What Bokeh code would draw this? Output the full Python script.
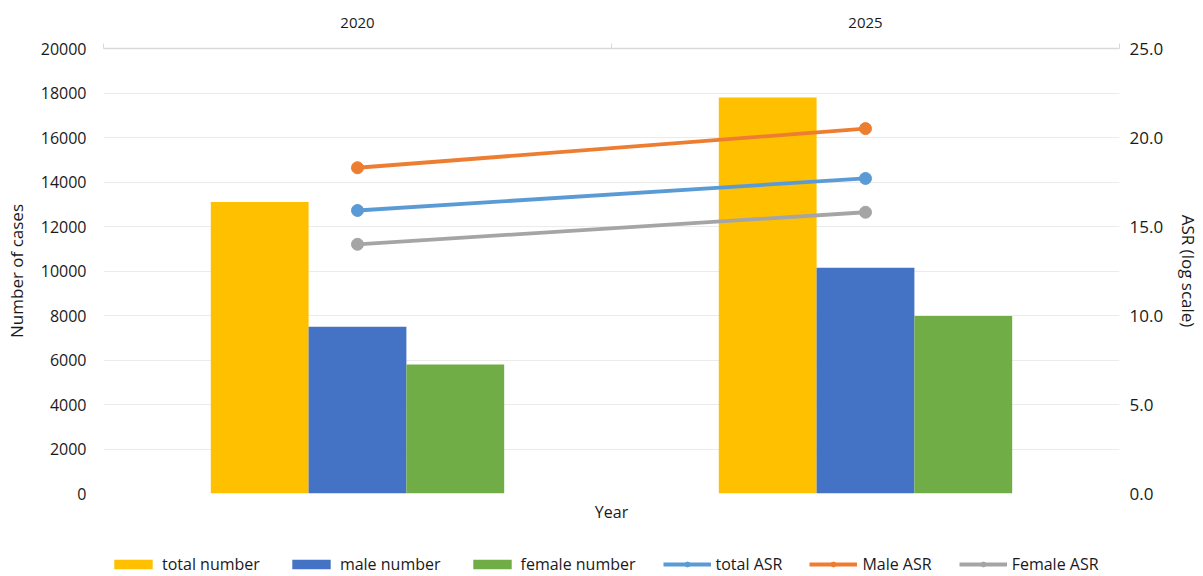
from bokeh.plotting import figure
from bokeh.layouts import column
from bokeh.models import (Range1d, LinearAxis, FixedTicker, NumeralTickFormatter,
                          Legend, LegendItem, ColumnDataSource, Grid)
from bokeh.transform import dodge
from bokeh.embed import file_html
from bokeh.resources import INLINE

# Case counts and age-standardised rates by year
years = ["2020", "2025"]
total_number = [13100, 17800]
male_number = [7500, 10150]
female_number = [5800, 7980]
total_asr = [15.9, 17.7]
male_asr = [18.3, 20.5]
female_asr = [14.0, 15.8]

count_ticks = list(range(0, 20001, 2000))
asr_ticks = [0, 5, 10, 15, 20, 25]

FONT = "Open Sans"
TEXT = "#1a1a1a"
C_TOTAL, C_MALE, C_FEMALE = "#ffc000", "#4472c4", "#70ad47"
L_TOTAL, L_MALE, L_FEMALE = "#5b9bd5", "#ed7d31", "#a5a5a5"
LINE_W, MARK = 3.8, 12

# each year occupies one unit slot; marks sit at the slot centre
slot = [i + 0.5 for i in range(len(years))]
edges = [float(i) for i in range(len(years) + 1)]

src = ColumnDataSource(dict(x=slot, total=total_number, male=male_number, female=female_number,
                            total_asr=total_asr, male_asr=male_asr, female_asr=female_asr))

W, H_MAIN, H_KEY = 1203, 526, 50

p = figure(width=W, height=H_MAIN,
           x_range=Range1d(0, len(years)),
           y_range=Range1d(0, 20000),
           output_backend="svg", toolbar_location=None,
           x_axis_location=None, y_axis_location=None,
           min_border_left=103, min_border_right=82, min_border_top=48, min_border_bottom=33)
p.outline_line_color = None
p.background_fill_color = "white"
p.extra_y_ranges = {"asr": Range1d(0, 25)}

for g in p.grid:
    g.visible = False
p.add_layout(Grid(dimension=1, ticker=FixedTicker(ticks=count_ticks),
                  grid_line_color="#ebebeb", grid_line_width=1))

# Bars: three series dodged around each year
w = 0.1925
bar_specs = (("total", C_TOTAL, -w), ("male", C_MALE, 0), ("female", C_FEMALE, w))
for col, color, off in bar_specs:
    p.vbar(x=dodge("x", off), top=col, width=w, source=src, fill_color=color, line_color=None)

# ASR lines on the secondary axis
line_specs = (("male_asr", L_MALE), ("total_asr", L_TOTAL), ("female_asr", L_FEMALE))
for col, color in line_specs:
    p.line(x="x", y=col, source=src, y_range_name="asr", line_color=color, line_width=LINE_W)
    p.scatter(x="x", y=col, source=src, y_range_name="asr", size=MARK,
              fill_color=color, line_color=color)

# Left axis
ax_l = LinearAxis(ticker=FixedTicker(ticks=count_ticks), axis_label="Number of cases")
ax_l.axis_line_color = None
ax_l.major_tick_line_color = None
ax_l.minor_tick_line_color = None
ax_l.major_tick_out = 0
ax_l.major_label_standoff = 17
ax_l.major_label_text_font = FONT
ax_l.major_label_text_font_size = "16px"
ax_l.major_label_text_color = TEXT
ax_l.axis_label_text_font = FONT
ax_l.axis_label_text_font_size = "17px"
ax_l.axis_label_text_font_style = "normal"
ax_l.axis_label_text_color = TEXT
ax_l.axis_label_standoff = 10
p.add_layout(ax_l, "left")

# Right axis
ax_r = LinearAxis(y_range_name="asr", ticker=FixedTicker(ticks=asr_ticks),
                  formatter=NumeralTickFormatter(format="0.0"), axis_label="ASR (log scale)")
ax_r.axis_line_color = None
ax_r.major_tick_line_color = None
ax_r.minor_tick_line_color = None
ax_r.major_tick_out = 0
ax_r.major_label_standoff = 10
ax_r.major_label_text_font = FONT
ax_r.major_label_text_font_size = "17px"
ax_r.major_label_text_color = TEXT
ax_r.axis_label_text_font = FONT
ax_r.axis_label_text_font_size = "17px"
ax_r.axis_label_text_font_style = "normal"
ax_r.axis_label_text_color = TEXT
ax_r.axis_label_standoff = 11
p.add_layout(ax_r, "right")

# Top category axis with boundary ticks
ax_t = LinearAxis(ticker=FixedTicker(ticks=slot, minor_ticks=edges))
ax_t.major_label_overrides = {c: y for c, y in zip(slot, years)}
ax_t.axis_line_color = "#d9d9d9"
ax_t.axis_line_width = 1.5
ax_t.major_tick_line_color = None
ax_t.major_tick_out = 0
ax_t.major_tick_in = 0
ax_t.minor_tick_line_color = "#d9d9d9"
ax_t.minor_tick_out = 5
ax_t.minor_tick_in = 0
ax_t.major_label_standoff = 16
ax_t.major_label_text_font = FONT
ax_t.major_label_text_font_size = "15px"
ax_t.major_label_text_color = TEXT
p.add_layout(ax_t, "above")

# Bottom axis carrying only the x title
ax_b = LinearAxis(ticker=FixedTicker(ticks=[]), axis_label="Year")
ax_b.axis_line_color = None
ax_b.major_tick_line_color = None
ax_b.minor_tick_line_color = None
ax_b.major_tick_out = 0
ax_b.major_label_standoff = 0
ax_b.major_label_text_font_size = "0px"
ax_b.axis_label_standoff = 7
ax_b.axis_label_text_font = FONT
ax_b.axis_label_text_font_size = "16px"
ax_b.axis_label_text_font_style = "normal"
ax_b.axis_label_text_color = TEXT
p.add_layout(ax_b, "below")

# Legend strip under the chart. Its renderers share the chart's data but stay
# hidden; they only supply the swatches.
key = figure(width=W, height=H_KEY, x_range=Range1d(0, 1), y_range=Range1d(0, 1),
             output_backend="svg", toolbar_location=None,
             x_axis_location=None, y_axis_location=None,
             min_border_left=0, min_border_right=0, min_border_top=0, min_border_bottom=0)
key.outline_line_color = None
for g in key.grid:
    g.visible = False

k_bars = {}
for col, color, off in bar_specs:
    k_bars[col] = key.vbar(x="x", top=col, width=w, source=src, fill_color=color,
                           line_color=None, visible=False)
k_lines = {}
for col, color in line_specs:
    k_lines[col] = [key.line(x="x", y=col, source=src, line_color=color, line_width=LINE_W,
                             visible=False),
                    key.scatter(x="x", y=col, source=src, size=MARK - 1, fill_color=color,
                                line_color=color, visible=False)]

legend = Legend(items=[
    LegendItem(label="total number", renderers=[k_bars["total"]]),
    LegendItem(label="male number", renderers=[k_bars["male"]]),
    LegendItem(label="female number", renderers=[k_bars["female"]]),
    LegendItem(label="total ASR", renderers=k_lines["total_asr"]),
    LegendItem(label="Male ASR", renderers=k_lines["male_asr"]),
    LegendItem(label="Female ASR", renderers=k_lines["female_asr"]),
], orientation="horizontal", location=(6, 1))
legend.click_policy = "none"
legend.padding = 0
legend.margin = 0
legend.spacing = 27
legend.glyph_width = 48
legend.glyph_height = 12
legend.label_height = 16
legend.label_standoff = 5
legend.label_text_font = FONT
legend.label_text_font_size = "16px"
legend.label_text_color = TEXT
legend.border_line_color = None
legend.background_fill_alpha = 0
key.add_layout(legend, "center")

layout = column(p, key, spacing=0)
open("out.html", "w").write(file_html(layout, INLINE))
